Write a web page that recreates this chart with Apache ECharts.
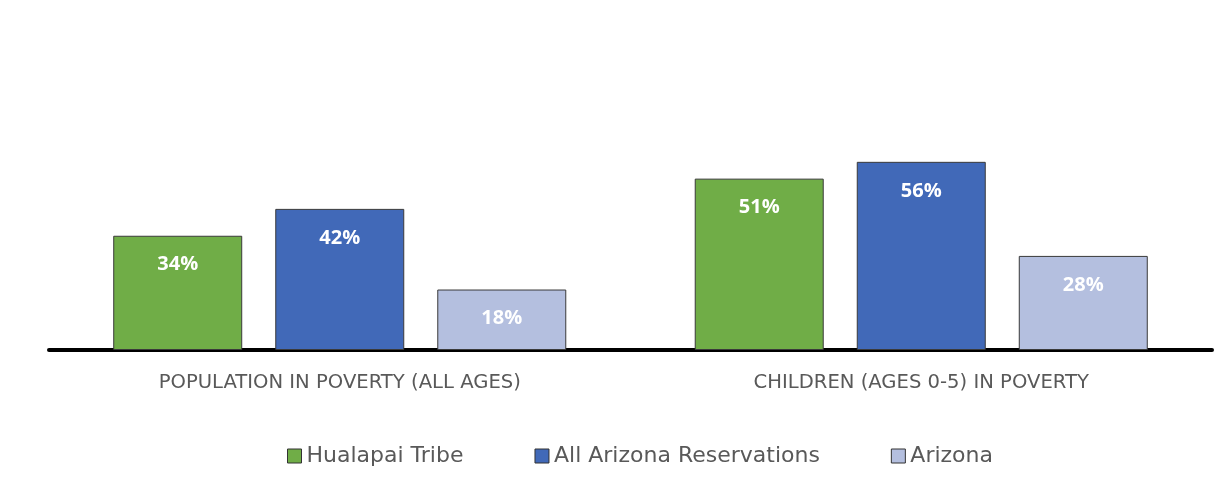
<!DOCTYPE html>
<html>
<head>
<meta charset="utf-8">
<script src="https://cdn.jsdelivr.net/npm/echarts@6/dist/echarts.min.js"></script>
<style>
  html, body { margin: 0; padding: 0; background: #fff; }
  #chart { width: 1230px; height: 485px; }
</style>
</head>
<body>
<div id="chart"></div>
<script>
  // categories and series
  const categories = ['POPULATION IN POVERTY (ALL AGES)', 'CHILDREN (AGES 0-5) IN POVERTY']
  const hualapai = [34, 51]
  const allReservations = [42, 56]
  const arizona = [18, 28]

  const chart = echarts.init(document.getElementById('chart'))

  const labelStyle = {
    show: true,
    position: 'insideTop',
    distance: 19,
    color: '#fff',
    fontWeight: 'bold',
    fontSize: 20,
    fontFamily: 'Open Sans',
    formatter: '{c}%'
  }

  function makeSeries(name, data, color) {
    return {
      name: name,
      type: 'bar',
      data: data,
      barWidth: 129,
      barGap: '25.6%',
      itemStyle: { color: color, borderColor: '#3a3a3a', borderWidth: 1 },
      label: labelStyle
    }
  }

  chart.setOption({
    animation: false,
    grid: { left: 49, right: 18, top: 14, bottom: 135 },
    legend: {
      bottom: 13,
      left: 282,
      itemWidth: 14,
      itemHeight: 14,
      itemGap: 71,
      icon: 'rect',
      itemStyle: { borderColor: '#333', borderWidth: 1 },
      textStyle: { color: '#595959', fontSize: 22, fontFamily: 'DejaVu Sans' },
      data: ['Hualapai Tribe', 'All Arizona Reservations', 'Arizona']
    },
    xAxis: {
      type: 'category',
      data: categories,
      axisLine: { lineStyle: { color: '#000', width: 4 } },
      axisTick: { show: false },
      axisLabel: { color: '#595959', fontSize: 19.6, fontFamily: 'DejaVu Sans', margin: 23 }
    },
    yAxis: {
      type: 'value',
      min: 0,
      max: 100,
      show: false
    },
    series: [
      makeSeries('Hualapai Tribe', hualapai, '#70ad47'),
      makeSeries('All Arizona Reservations', allReservations, '#4169b8'),
      makeSeries('Arizona', arizona, '#b4bfdf')
    ]
  })
</script>
</body>
</html>
